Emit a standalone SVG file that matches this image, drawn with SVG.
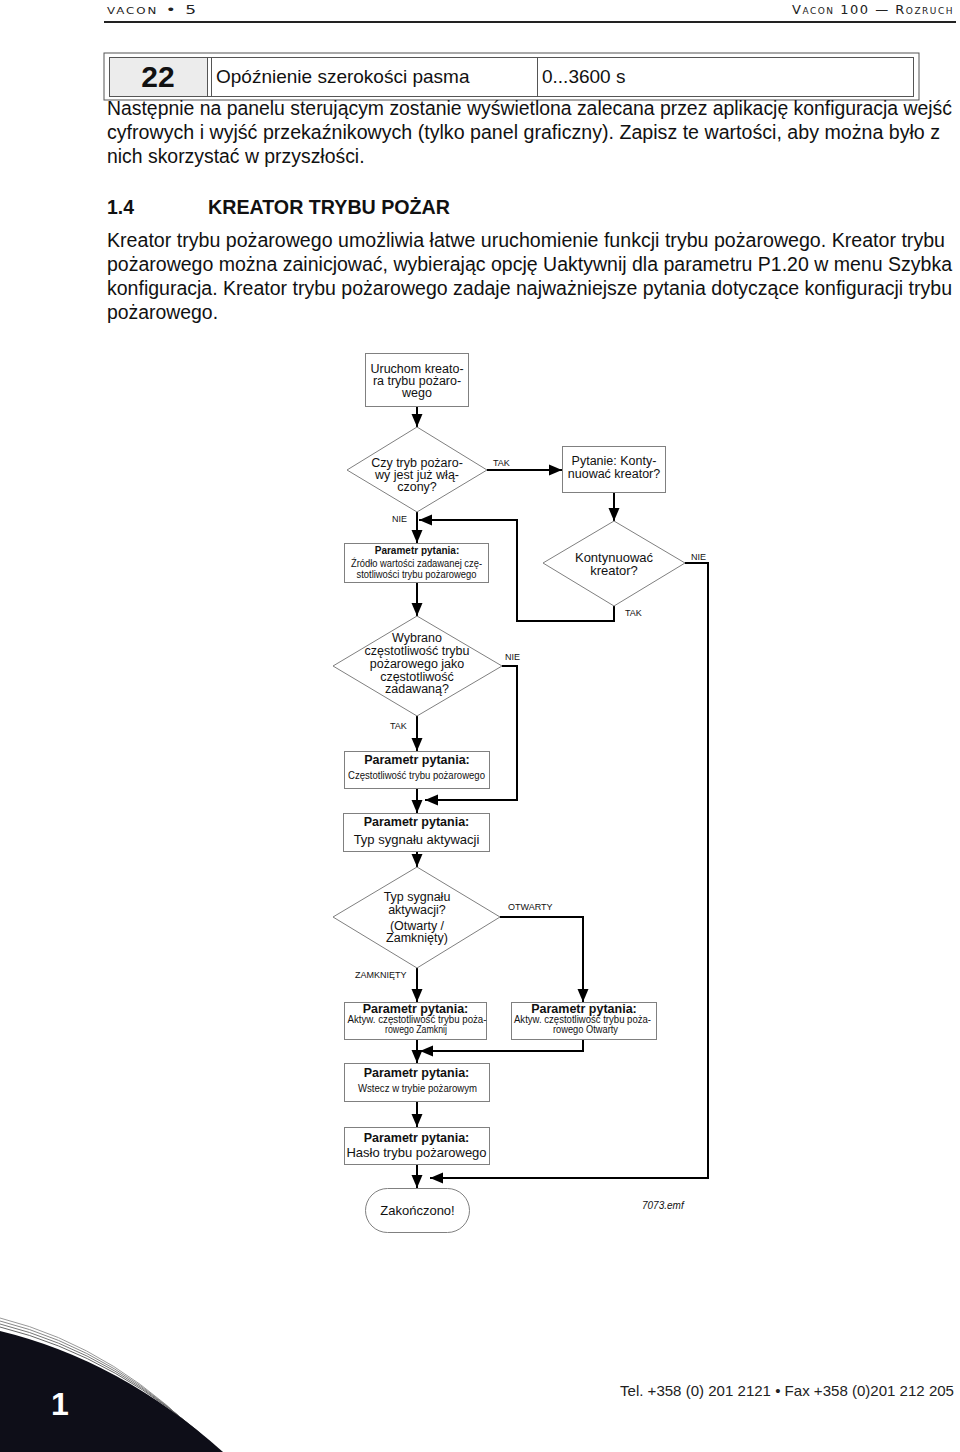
<svg xmlns="http://www.w3.org/2000/svg" width="960" height="1452" viewBox="0 0 960 1452">
<style>
.t{font-family:"Liberation Sans",Arial,sans-serif;fill:#111}
.box{fill:#fff;stroke:#808080;stroke-width:1}
.c{fill:none;stroke:#000;stroke-width:2}
.lab{font-family:"Liberation Sans",Arial,sans-serif;font-size:9px;fill:#111}
.m{text-anchor:middle}
.b{font-weight:bold}
.p{font-size:19.4px}
.hd{font-family:"DejaVu Sans",sans-serif;font-variant:small-caps;font-size:13px;fill:#222;letter-spacing:1.5px}
</style>
<defs>
<marker id="ah" markerUnits="userSpaceOnUse" markerWidth="14" markerHeight="12" refX="13" refY="6" orient="auto"><path d="M0,0.5 L13,6 L0,11.5 z" fill="#000"/></marker>
</defs>
<rect width="960" height="1452" fill="#fff"/>
<!-- header -->
<text class="hd" x="107" y="14" textLength="91" lengthAdjust="spacingAndGlyphs">vacon • 5</text>
<text class="hd" x="954" y="14" text-anchor="end">Vacon 100 — Rozruch</text>
<line x1="104" y1="22" x2="956" y2="22" stroke="#222" stroke-width="2"/>
<!-- table -->
<g id="table">
<rect x="104" y="53" width="815" height="47" fill="none" stroke="#555"/>
<rect x="109.5" y="57.5" width="98" height="39" fill="#ececec"/>
<rect x="109.5" y="57.5" width="804" height="39" fill="none" stroke="#555"/>
<line x1="207.5" y1="57.5" x2="207.5" y2="96.5" stroke="#555"/>
<line x1="211.5" y1="57.5" x2="211.5" y2="96.5" stroke="#555"/>
<line x1="537.5" y1="57.5" x2="537.5" y2="96.5" stroke="#555"/>
<text class="t b m" x="158" y="87" font-size="30">22</text>
<text class="t" x="216" y="83" font-size="19">Opóźnienie szerokości pasma</text>
<text class="t" x="542" y="83" font-size="19">0...3600 s</text>
</g>
<!-- paragraphs -->
<text class="t p" x="107" y="115" textLength="845" lengthAdjust="spacingAndGlyphs">Następnie na panelu sterującym zostanie wyświetlona zalecana przez aplikację konfiguracja wejść</text>
<text class="t p" x="107" y="139" textLength="833" lengthAdjust="spacingAndGlyphs">cyfrowych i wyjść przekaźnikowych (tylko panel graficzny). Zapisz te wartości, aby można było z</text>
<text class="t p" x="107" y="163">nich skorzystać w przyszłości.</text>
<text class="t p b" x="107" y="214">1.4</text>
<text class="t p b" x="208" y="214" textLength="242" lengthAdjust="spacingAndGlyphs">KREATOR TRYBU POŻAR</text>
<text class="t p" x="107" y="247" textLength="838" lengthAdjust="spacingAndGlyphs">Kreator trybu pożarowego umożliwia łatwe uruchomienie funkcji trybu pożarowego. Kreator trybu</text>
<text class="t p" x="107" y="271" textLength="845" lengthAdjust="spacingAndGlyphs">pożarowego można zainicjować, wybierając opcję Uaktywnij dla parametru P1.20 w menu Szybka</text>
<text class="t p" x="107" y="295" textLength="845" lengthAdjust="spacingAndGlyphs">konfiguracja. Kreator trybu pożarowego zadaje najważniejsze pytania dotyczące konfiguracji trybu</text>
<text class="t p" x="107" y="319">pożarowego.</text>

<!-- connectors -->
<g id="connectors">
<path class="c" d="M417,406 V427" marker-end="url(#ah)"/>
<path class="c" d="M487,470 H562" marker-end="url(#ah)"/>
<path class="c" d="M417,512 V543" marker-end="url(#ah)"/>
<path class="c" d="M614,492 V521" marker-end="url(#ah)"/>
<path class="c" d="M614,606 V621 H517 V520 H419" marker-end="url(#ah)"/>
<path class="c" d="M685,563 H708 V1178 H430" marker-end="url(#ah)"/>
<path class="c" d="M417,582 V616" marker-end="url(#ah)"/>
<path class="c" d="M502,666 H517 V800 H425" marker-end="url(#ah)"/>
<path class="c" d="M417,716 V751" marker-end="url(#ah)"/>
<path class="c" d="M417,788 V813" marker-end="url(#ah)"/>
<path class="c" d="M417,851 V867" marker-end="url(#ah)"/>
<path class="c" d="M500,917 H583 V1002" marker-end="url(#ah)"/>
<path class="c" d="M417,968 V1002" marker-end="url(#ah)"/>
<path class="c" d="M417,1039 V1063" marker-end="url(#ah)"/>
<path class="c" d="M583,1039 V1051 H420" marker-end="url(#ah)"/>
<path class="c" d="M417,1101 V1127" marker-end="url(#ah)"/>
<path class="c" d="M417,1164 V1188" marker-end="url(#ah)"/>
<text class="lab" x="493" y="466">TAK</text>
<text class="lab" x="392" y="522">NIE</text>
<text class="lab" x="691" y="560">NIE</text>
<text class="lab" x="625" y="616">TAK</text>
<text class="lab" x="505" y="660">NIE</text>
<text class="lab" x="390" y="729">TAK</text>
<text class="lab" x="508" y="910">OTWARTY</text>
<text class="lab" x="355" y="978">ZAMKNIĘTY</text>
</g>

<!-- nodes -->
<g id="start">
<rect class="box" x="365.5" y="353.5" width="103" height="53"/>
<text class="t m" x="417" y="373" font-size="12.5">Uruchom kreato-</text>
<text class="t m" x="417" y="385" font-size="12.5">ra trybu pożaro-</text>
<text class="t m" x="417" y="397" font-size="12.5">wego</text>
</g>
<g id="d-active">
<polygon class="box" points="417,427 487,470 417,512 347,470"/>
<text class="t m" x="417" y="467" font-size="12.5">Czy tryb pożaro-</text>
<text class="t m" x="417" y="479" font-size="12.5">wy jest już włą-</text>
<text class="t m" x="417" y="491" font-size="12.5">czony?</text>
</g>
<g id="q-continue">
<rect class="box" x="562.5" y="446.5" width="103" height="46"/>
<text class="t m" x="614" y="465" font-size="12.5">Pytanie: Konty-</text>
<text class="t m" x="614" y="478" font-size="12.5">nuować kreator?</text>
</g>
<g id="d-continue">
<polygon class="box" points="614,521 685,563 614,606 543,563"/>
<text class="t m" x="614" y="562" font-size="13">Kontynuować</text>
<text class="t m" x="614" y="575" font-size="13">kreator?</text>
</g>
<g id="p-source">
<rect class="box" x="344.5" y="543.5" width="144" height="39"/>
<text class="t m b" x="417" y="554" font-size="10">Parametr pytania:</text>
<text class="t m" x="416.5" y="567" font-size="10.5" textLength="131" lengthAdjust="spacingAndGlyphs">Źródło wartości zadawanej czę-</text>
<text class="t m" x="416.5" y="578" font-size="10.5" textLength="120" lengthAdjust="spacingAndGlyphs">stotliwości trybu pożarowego</text>
</g>
<g id="d-selected">
<polygon class="box" points="417,616 502,666 417,716 333,666"/>
<text class="t m" x="417" y="642" font-size="12.5">Wybrano</text>
<text class="t m" x="417" y="655" font-size="12.5">częstotliwość trybu</text>
<text class="t m" x="417" y="668" font-size="12.5">pożarowego jako</text>
<text class="t m" x="417" y="681" font-size="12.5">częstotliwość</text>
<text class="t m" x="417" y="693" font-size="12.5">zadawaną?</text>
</g>
<g id="p-freq">
<rect class="box" x="344.5" y="751.5" width="145" height="37"/>
<text class="t m b" x="417" y="764" font-size="12.5">Parametr pytania:</text>
<text class="t m" x="416.5" y="779" font-size="10.5" textLength="137" lengthAdjust="spacingAndGlyphs">Częstotliwość trybu pożarowego</text>
</g>
<g id="p-signal">
<rect class="box" x="343.5" y="813.5" width="146" height="38"/>
<text class="t m b" x="416.5" y="826" font-size="12.5">Parametr pytania:</text>
<text class="t m" x="416.5" y="844" font-size="13">Typ sygnału aktywacji</text>
</g>
<g id="d-signal">
<polygon class="box" points="417,867 500,917 417,968 333,917"/>
<text class="t m" x="417" y="901" font-size="12.5">Typ sygnału</text>
<text class="t m" x="417" y="914" font-size="12.5">aktywacji?</text>
<text class="t m" x="417" y="930" font-size="12.5">(Otwarty /</text>
<text class="t m" x="417" y="942" font-size="12.5">Zamknięty)</text>
</g>
<g id="p-closed">
<rect class="box" x="344.5" y="1002.5" width="142" height="37"/>
<text class="t m b" x="415.5" y="1013" font-size="12.5">Parametr pytania:</text>
<text class="t m" x="417" y="1023" font-size="10" textLength="139" lengthAdjust="spacingAndGlyphs">Aktyw. częstotliwość trybu poża-</text>
<text class="t m" x="416" y="1033" font-size="10" textLength="62" lengthAdjust="spacingAndGlyphs">rowego Zamknij</text>
</g>
<g id="p-open">
<rect class="box" x="511.5" y="1002.5" width="145" height="37"/>
<text class="t m b" x="584" y="1013" font-size="12.5">Parametr pytania:</text>
<text class="t m" x="582.5" y="1023" font-size="10" textLength="137" lengthAdjust="spacingAndGlyphs">Aktyw. częstotliwość trybu poża-</text>
<text class="t m" x="585.5" y="1033" font-size="10" textLength="65" lengthAdjust="spacingAndGlyphs">rowego Otwarty</text>
</g>
<g id="p-back">
<rect class="box" x="344.5" y="1063.5" width="145" height="38"/>
<text class="t m b" x="416.5" y="1077" font-size="12.5">Parametr pytania:</text>
<text class="t m" x="417.5" y="1092" font-size="10.5" textLength="119" lengthAdjust="spacingAndGlyphs">Wstecz w trybie pożarowym</text>
</g>
<g id="p-password">
<rect class="box" x="344.5" y="1127.5" width="145" height="37"/>
<text class="t m b" x="416.5" y="1142" font-size="12.5">Parametr pytania:</text>
<text class="t m" x="416.5" y="1157" font-size="13">Hasło trybu pożarowego</text>
</g>
<g id="end">
<rect class="box" x="365.5" y="1188.5" width="104" height="44" rx="22" ry="22"/>
<text class="t m" x="417.5" y="1215" font-size="13">Zakończono!</text>
</g>
<text class="t" x="642" y="1209" font-size="10" font-style="italic">7073.emf</text>

<!-- footer -->
<g id="footer">
<path d="M0,1318 Q120,1348 215,1452" fill="none" stroke="#999" stroke-width="1"/>
<path d="M0,1321 Q120,1351 217,1452" fill="none" stroke="#888" stroke-width="1"/>
<path d="M0,1324 Q120,1354 219,1452" fill="none" stroke="#777" stroke-width="1"/>
<path d="M0,1327 Q120,1357 221,1452" fill="none" stroke="#666" stroke-width="1"/>
<path d="M0,1331 Q120,1360 223,1452 L0,1452 Z" fill="#0e0e18"/>
<text x="60" y="1415" font-family="'Liberation Sans',Arial,sans-serif" font-weight="bold" font-size="32" fill="#fff" text-anchor="middle">1</text>
<text x="620" y="1396" font-family="'Liberation Sans',Arial,sans-serif" font-size="15" fill="#222" textLength="334" lengthAdjust="spacingAndGlyphs">Tel. +358 (0) 201 2121 • Fax +358 (0)201 212 205</text>
</g>
</svg>
